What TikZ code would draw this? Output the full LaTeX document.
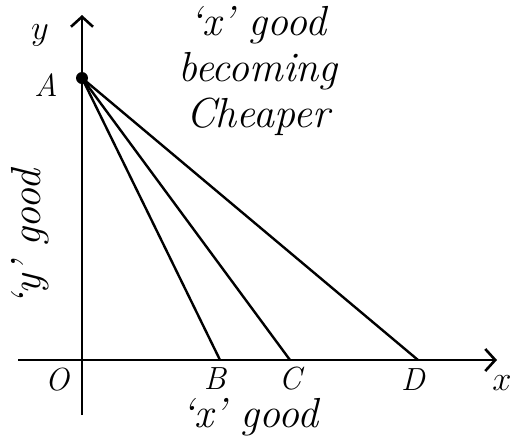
\documentclass[tikz,border=0pt]{standalone}
\usepackage{tikz}
\usetikzlibrary{arrows.meta, positioning}

\begin{document}
\begin{tikzpicture}[
    x=0.5pt, y=0.5pt,
    axis/.style={line width=1.3pt, -{Straight Barb[length=5pt, width=11pt, line width=1.3pt]}},
    budget/.style={line width=1.2pt},
    lbl/.style={font=\fontsize{16}{18}\selectfont\itshape, inner sep=1pt},
    note/.style={font=\fontsize{21}{23}\selectfont\itshape, align=center, inner sep=1pt}
]
    \useasboundingbox (0,0) rectangle (524,441);

    % Points
    \coordinate (O) at (82,81);
    \coordinate (ybot) at (82,26);
    \coordinate (ytop) at (82,426);
    \coordinate (xleft) at (18,81);
    \coordinate (xright) at (497,81);
    \node[circle, fill, inner sep=0pt, minimum size=6pt] (A) at (82,363) {};
    \coordinate (B) at (220,81);
    \coordinate (C) at (290,81);
    \coordinate (D) at (418,81);

    % Axes
    \draw[axis] (ybot) -- (ytop);
    \draw[axis] (xleft) -- (xright);

    % Budget lines
    \draw[budget] (A.center) -- (B);
    \draw[budget] (A.center) -- (C);
    \draw[budget] (A.center) -- (D);

    % Labels
    \node[lbl] (ylbl) at (40,406) {$y$};
    \node[lbl] (xlbl) at (502,58) {$x$};
    \node[lbl] (Albl) at (46,356) {A};
    \node[lbl] (Olbl) at (57,61) {O};
    \node[lbl] (Blbl) at (215,62) {B};
    \node[lbl] (Clbl) at (290,62) {C};
    \node[lbl] (Dlbl) at (413,61) {D};

    % Axis titles
    \node[note] (xgood) at (250,24) {`x' good};
    \node[note, rotate=90] (ygood) at (30,203) {`y' good};

    % Note
    \node[note] (cheaper) at (258,370) {`x' good\\becoming\\Cheaper};
\end{tikzpicture}
\end{document}
